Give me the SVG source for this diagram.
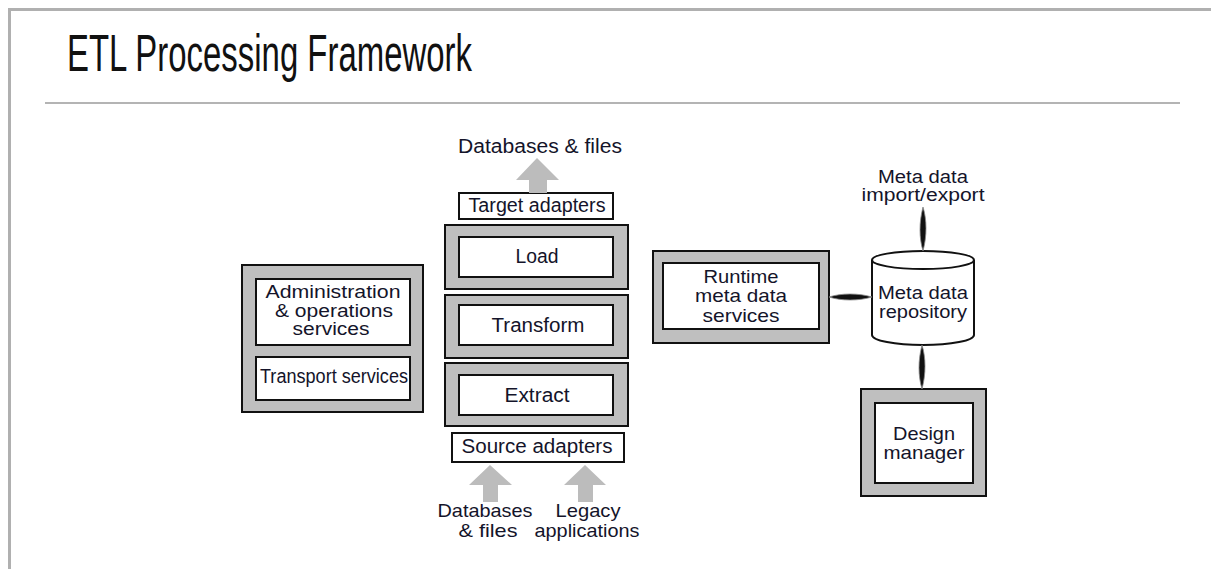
<svg xmlns="http://www.w3.org/2000/svg" width="1211" height="569" viewBox="0 0 1211 569">
  <defs>
    <style>
      .frame { fill: none; stroke: #b0b0b0; stroke-width: 3; }
      .rule { stroke: #b4b4b4; stroke-width: 2; }
      .title { font-family: "Liberation Sans", Arial, sans-serif; font-size: 52px; fill: #111; }
      .outer { fill: #bfbfbf; stroke: #111; stroke-width: 2; }
      .inner { fill: #fff; stroke: #111; stroke-width: 2; }
      .lbl { font-family: "Liberation Sans", Arial, sans-serif; font-size: 20px; fill: #14142a; text-anchor: middle; }
      .lbl.tight { font-size: 18.5px; }
      .lbl.dense { font-size: 17.5px; }
      .flow { fill: #bcbcbc; }
      .link { fill: #111; stroke: #8a8a8a; stroke-width: 0.8; }
      .drum { fill: #fff; stroke: #111; stroke-width: 2; }
    </style>
  </defs>

  <rect width="1211" height="569" fill="#fff"/>

  <!-- page frame and title -->
  <g id="header">
    <polyline class="frame" points="1211,9.5 9.5,9.5 9.5,569"/>
    <text class="title" x="67" y="71" textLength="405" lengthAdjust="spacingAndGlyphs">ETL Processing Framework</text>
    <line class="rule" x1="45" y1="103" x2="1180" y2="103"/>
  </g>

  <!-- administration / transport column -->
  <g id="services">
    <rect class="outer" x="242" y="265" width="181" height="147"/>
    <rect class="inner" x="256" y="279" width="154" height="66"/>
    <text class="lbl dense" x="333" y="298" textLength="135" lengthAdjust="spacingAndGlyphs">Administration</text>
    <text class="lbl dense" x="334" y="316.5" textLength="118" lengthAdjust="spacingAndGlyphs">&amp; operations</text>
    <text class="lbl dense" x="331" y="335" textLength="77" lengthAdjust="spacingAndGlyphs">services</text>
    <rect class="inner" x="256" y="357" width="154" height="43"/>
    <text class="lbl" x="334" y="383" textLength="148" lengthAdjust="spacingAndGlyphs">Transport services</text>
  </g>

  <!-- target side -->
  <g id="target-output">
    <text class="lbl" x="540" y="153" textLength="164" lengthAdjust="spacingAndGlyphs">Databases &amp; files</text>
  </g>
  <g id="target-adapters">
    <rect class="inner" x="459" y="193" width="154" height="26"/>
    <text class="lbl" x="537" y="212" textLength="137" lengthAdjust="spacingAndGlyphs">Target adapters</text>
  </g>

  <g id="load">
    <rect class="outer" x="445" y="225" width="183" height="64"/>
    <rect class="inner" x="459" y="237" width="154" height="40"/>
    <text class="lbl" x="537" y="263" textLength="43" lengthAdjust="spacingAndGlyphs">Load</text>
  </g>

  <g id="transform">
    <rect class="outer" x="445" y="295" width="183" height="63"/>
    <rect class="inner" x="459" y="305" width="154" height="40"/>
    <text class="lbl" x="538" y="332" textLength="93" lengthAdjust="spacingAndGlyphs">Transform</text>
  </g>

  <g id="extract">
    <rect class="outer" x="445" y="363" width="183" height="63"/>
    <rect class="inner" x="459" y="375" width="154" height="40"/>
    <text class="lbl" x="537" y="402" textLength="65" lengthAdjust="spacingAndGlyphs">Extract</text>
  </g>

  <!-- source side -->
  <g id="source-adapters">
    <rect class="inner" x="452" y="433" width="172" height="29"/>
    <text class="lbl" x="537" y="453" textLength="151" lengthAdjust="spacingAndGlyphs">Source adapters</text>
  </g>
  <g id="source-files">
    <text class="lbl tight" x="485" y="517" textLength="95" lengthAdjust="spacingAndGlyphs">Databases</text>
    <text class="lbl tight" x="488" y="537" textLength="59" lengthAdjust="spacingAndGlyphs">&amp; files</text>
  </g>
  <g id="source-legacy">
    <text class="lbl tight" x="588" y="517" textLength="65" lengthAdjust="spacingAndGlyphs">Legacy</text>
    <text class="lbl tight" x="587" y="537" textLength="105" lengthAdjust="spacingAndGlyphs">applications</text>
  </g>

  <!-- runtime meta data services -->
  <g id="runtime">
    <rect class="outer" x="653" y="251" width="176" height="92"/>
    <rect class="inner" x="663" y="263" width="156" height="66"/>
    <text class="lbl tight" x="741" y="283" textLength="75" lengthAdjust="spacingAndGlyphs">Runtime</text>
    <text class="lbl tight" x="741" y="302" textLength="92" lengthAdjust="spacingAndGlyphs">meta data</text>
    <text class="lbl tight" x="741" y="322" textLength="77" lengthAdjust="spacingAndGlyphs">services</text>
  </g>

  <!-- meta data repository (drum) -->
  <g id="repository">
    <path class="drum" d="M872,260 L872,335 A51,10 0 0 0 974,335 L974,260"/>
    <ellipse class="drum" cx="923" cy="260" rx="51" ry="9"/>
    <text class="lbl dense" x="923" y="299" textLength="90" lengthAdjust="spacingAndGlyphs">Meta data</text>
    <text class="lbl dense" x="923" y="317.5" textLength="88" lengthAdjust="spacingAndGlyphs">repository</text>
  </g>

  <g id="import-export">
    <text class="lbl dense" x="923" y="183" textLength="90" lengthAdjust="spacingAndGlyphs">Meta data</text>
    <text class="lbl dense" x="923" y="201" textLength="123" lengthAdjust="spacingAndGlyphs">import/export</text>
  </g>

  <g id="design-manager">
    <rect class="outer" x="861" y="389" width="125" height="107"/>
    <rect class="inner" x="875" y="403" width="98" height="80"/>
    <text class="lbl tight" x="924" y="440" textLength="62" lengthAdjust="spacingAndGlyphs">Design</text>
    <text class="lbl tight" x="924" y="459" textLength="81" lengthAdjust="spacingAndGlyphs">manager</text>
  </g>

  <!-- connectors -->
  <g id="connectors">
    <!-- wide gray flow arrows -->
    <polygon class="flow" points="537,158 559,180 547,180 547,193 529,193 529,180 516,180"/>
    <polygon class="flow" points="490,465 512,485 498,485 498,502 483,502 483,485 469,485"/>
    <polygon class="flow" points="585,465 606,485 593,485 593,502 578,502 578,485 564,485"/>
    <!-- two-way meta data links -->
    <path class="link" d="M923,207 C927,220 927,236 923,251 C919,238 919,222 923,207 Z"/>
    <path class="link" d="M829,297 C841,293 859,293 872,297 C859,301 841,301 829,297 Z"/>
    <path class="link" d="M922,345 C926,358 926,374 922,389 C918,376 918,360 922,345 Z"/>
  </g>
</svg>
